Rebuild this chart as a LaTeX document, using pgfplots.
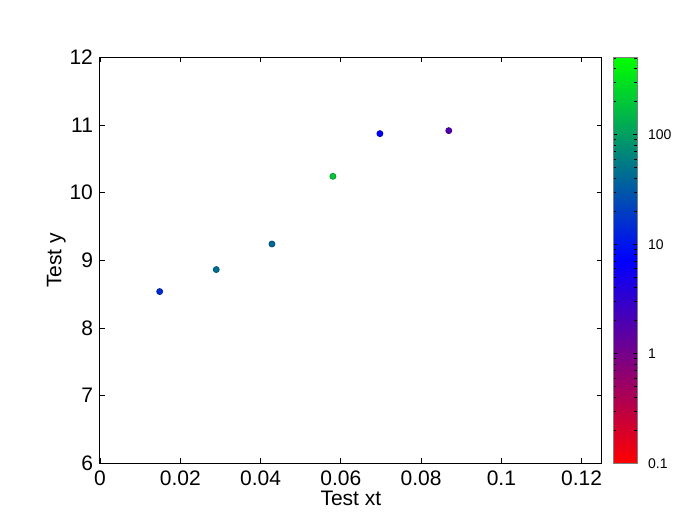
\documentclass[border=0pt]{standalone}
\usepackage{fontspec}
\setmainfont{Liberation Sans}
\usepackage{pgfplots}
\pgfplotsset{compat=1.18}
\begin{document}
\begin{tikzpicture}
\begin{axis}[
  scale only axis,
  width=250.85pt, height=203pt,
  xmin=0, xmax=0.125, ymin=6, ymax=12,
  xtick={0,0.02,0.04,0.06,0.08,0.1,0.12},
  ytick={6,7,8,9,10,11,12},
  xticklabels={0,0.02,0.04,0.06,0.08,0.1,0.12},
  tick align=inside, tick pos=both,
  major tick length=2.5pt,
  axis line style={line width=0.5pt},
  every tick/.style={black, line width=0.4pt},
  /pgf/number format/assume math mode=true,
  ticklabel style={font=\fontsize{10.5}{12}\selectfont},
  label style={font=\fontsize{10.5}{12}\selectfont},
  xlabel={Test xt}, ylabel={Test y},
  xlabel style={yshift=4pt},
  ylabel style={yshift=-5pt},
  colormap={rbg}{rgb255=(255,0,0) rgb255=(0,0,255) rgb255=(0,255,0)},
  point meta min=-1, point meta max=2.706,
  colorbar,
  colorbar style={
    at={(parent axis.north east)}, anchor=north west, xshift=-2.85pt,
    width=12pt,
    ytick={-1,0,1,2},
    yticklabels={0.1,1,10,100},
    minor ytick={-0.699,-0.523,-0.398,-0.301,-0.222,-0.155,-0.097,-0.046,
                 0.301,0.477,0.602,0.699,0.778,0.845,0.903,0.954,
                 1.301,1.477,1.602,1.699,1.778,1.845,1.903,1.954,
                 2.301,2.477,2.602,2.699},
    ytick pos=both, yticklabel pos=right,
    tick align=inside,
    major tick length=2pt, minor tick length=1.3pt,
    every tick/.style={black, line width=0.4pt},
    axis line style={gray, line width=0.4pt},
    yticklabel style={font=\fontsize{7}{8}\selectfont, xshift=2pt},
  },
]
\addplot[scatter, only marks, mark=*, mark size=1.5pt, point meta=explicit]
  table[meta=c] {
x       y      c
0.01487 8.538  1.15
0.02897 8.863  1.65
0.04284 9.241  1.60
0.05803 10.241 2.30
0.06974 10.872 0.85
0.0869  10.916 0.28
};
\end{axis}
\pgfresetboundingbox
\path (-50pt,-28.35pt) rectangle (293pt,231.65pt);
\end{tikzpicture}
\end{document}
